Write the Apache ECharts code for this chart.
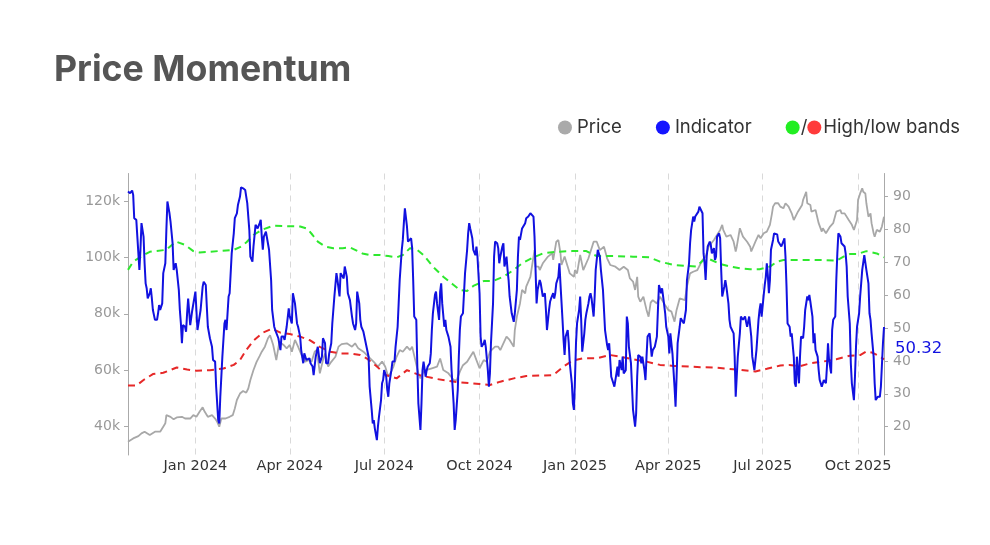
<!DOCTYPE html>
<html><head><meta charset="utf-8">
<script src="https://cdn.jsdelivr.net/npm/echarts@6/dist/echarts.min.js"></script>
<style>html,body{margin:0;padding:0;background:#fff}#c{width:990px;height:545px}</style>
</head><body><div id="c"></div>
<script>
const startDate = [2023, 9, 28], endDate = [2025, 9, 26];
const quarterDates = ['2024-01-01','2024-04-01','2024-07-01','2024-10-01','2025-01-01','2025-04-01','2025-07-01','2025-10-01'];
const quarterLabels = ['Jan 2024','Apr 2024','Jul 2024','Oct 2024','Jan 2025','Apr 2025','Jul 2025','Oct 2025'];
const priceTicks = [40, 60, 80, 100, 120];          // thousands
const indicatorTicks = [20, 30, 40, 50, 60, 70, 80, 90];

// Price (thousands)
const price = [['2023-10-28',34.4],['2023-11-02',35.6],['2023-11-07',36.4],['2023-11-10',37.4],['2023-11-13',38.0],['2023-11-18',36.8],['2023-11-23',38.0],['2023-11-28',38.0],['2023-12-01',39.8],['2023-12-03',41.0],['2023-12-04',43.9],['2023-12-08',43.3],['2023-12-11',42.4],['2023-12-14',43.1],['2023-12-19',43.3],['2023-12-22',42.7],['2023-12-27',42.7],['2023-12-30',43.9],['2024-01-02',43.3],['2024-01-05',45.1],['2024-01-08',46.7],['2024-01-10',45.1],['2024-01-13',43.3],['2024-01-17',43.9],['2024-01-20',42.7],['2024-01-22',41.5],['2024-01-24',39.8],['2024-01-26',42.7],['2024-01-30',42.7],['2024-02-03',43.3],['2024-02-06',43.9],['2024-02-08',46.3],['2024-02-10',49.3],['2024-02-13',51.6],['2024-02-16',52.5],['2024-02-19',51.9],['2024-02-21',53.4],['2024-02-23',56.4],['2024-02-26',60.0],['2024-02-29',62.9],['2024-03-03',65.0],['2024-03-05',66.5],['2024-03-08',68.3],['2024-03-11',71.3],['2024-03-13',72.4],['2024-03-16',68.9],['2024-03-18',65.3],['2024-03-19',63.5],['2024-03-22',70.1],['2024-03-26',68.9],['2024-03-29',67.7],['2024-04-01',68.9],['2024-04-03',66.5],['2024-04-06',70.7],['2024-04-09',68.3],['2024-04-13',64.7],['2024-04-16',62.9],['2024-04-19',63.5],['2024-04-22',62.9],['2024-04-25',66.5],['2024-04-27',67.1],['2024-04-30',58.8],['2024-05-03',63.5],['2024-05-05',65.9],['2024-05-08',61.2],['2024-05-11',62.9],['2024-05-15',64.7],['2024-05-18',68.3],['2024-05-21',69.2],['2024-05-26',69.5],['2024-05-31',68.3],['2024-06-03',69.5],['2024-06-06',67.7],['2024-06-11',66.5],['2024-06-16',64.7],['2024-06-21',62.9],['2024-06-25',61.2],['2024-06-29',63.0],['2024-07-02',61.2],['2024-07-05',57.6],['2024-07-07',58.8],['2024-07-10',61.2],['2024-07-13',64.7],['2024-07-16',67.1],['2024-07-19',66.5],['2024-07-23',68.3],['2024-07-26',67.1],['2024-07-28',68.3],['2024-07-31',63.5],['2024-08-03',58.8],['2024-08-05',57.0],['2024-08-08',59.4],['2024-08-11',60.0],['2024-08-16',60.6],['2024-08-21',61.2],['2024-08-24',64.1],['2024-08-27',60.0],['2024-09-01',58.8],['2024-09-06',56.4],['2024-09-09',56.4],['2024-09-12',59.4],['2024-09-15',61.7],['2024-09-19',62.9],['2024-09-22',64.7],['2024-09-25',66.5],['2024-09-28',63.5],['2024-10-01',60.6],['2024-10-05',63.5],['2024-10-08',62.9],['2024-10-11',66.5],['2024-10-16',68.3],['2024-10-19',68.3],['2024-10-21',67.1],['2024-10-24',69.5],['2024-10-27',71.9],['2024-10-30',70.7],['2024-11-03',68.3],['2024-11-04',74.2],['2024-11-06',79.0],['2024-11-09',83.7],['2024-11-11',88.5],['2024-11-14',87.3],['2024-11-15',89.7],['2024-11-19',93.2],['2024-11-20',95.6],['2024-11-23',102.7],['2024-11-24',96.8],['2024-11-27',96.8],['2024-11-28',95.6],['2024-12-01',98.0],['2024-12-06',100.4],['2024-12-10',101.6],['2024-12-11',99.2],['2024-12-14',105.7],['2024-12-16',106.3],['2024-12-18',101.6],['2024-12-19',97.4],['2024-12-22',100.4],['2024-12-26',95.6],['2024-12-27',94.4],['2024-12-31',93.2],['2025-01-01',95.6],['2025-01-03',94.4],['2025-01-06',101.0],['2025-01-09',95.6],['2025-01-14',99.8],['2025-01-19',105.7],['2025-01-22',105.7],['2025-01-25',102.7],['2025-01-29',103.9],['2025-02-01',99.8],['2025-02-04',97.4],['2025-02-09',96.8],['2025-02-13',95.6],['2025-02-17',96.8],['2025-02-21',95.6],['2025-02-23',92.6],['2025-02-26',91.5],['2025-02-28',88.5],['2025-03-02',93.2],['2025-03-03',86.1],['2025-03-05',84.3],['2025-03-08',86.1],['2025-03-11',81.4],['2025-03-13',79.0],['2025-03-15',84.0],['2025-03-17',84.9],['2025-03-21',83.7],['2025-03-24',86.1],['2025-03-29',83.1],['2025-04-01',81.4],['2025-04-04',80.8],['2025-04-07',77.2],['2025-04-09',81.4],['2025-04-12',85.5],['2025-04-17',84.9],['2025-04-19',89.7],['2025-04-22',94.4],['2025-04-25',95.0],['2025-04-29',95.6],['2025-05-04',99.2],['2025-05-07',100.4],['2025-05-10',104.0],['2025-05-15',106.3],['2025-05-21',109.9],['2025-05-23',111.7],['2025-05-24',109.9],['2025-05-27',107.5],['2025-05-31',108.1],['2025-06-03',105.7],['2025-06-05',102.2],['2025-06-06',103.9],['2025-06-09',110.5],['2025-06-12',107.5],['2025-06-16',105.7],['2025-06-19',103.9],['2025-06-20',102.2],['2025-06-24',105.7],['2025-06-27',108.1],['2025-06-29',106.9],['2025-07-02',108.7],['2025-07-05',109.3],['2025-07-08',111.7],['2025-07-10',115.8],['2025-07-11',118.2],['2025-07-13',119.4],['2025-07-16',119.4],['2025-07-18',118.2],['2025-07-19',118.8],['2025-07-21',117.6],['2025-07-23',119.4],['2025-07-26',118.2],['2025-07-29',115.8],['2025-07-31',113.4],['2025-08-01',114.0],['2025-08-04',116.4],['2025-08-08',118.8],['2025-08-09',120.6],['2025-08-12',123.5],['2025-08-13',119.4],['2025-08-16',118.8],['2025-08-17',116.4],['2025-08-21',117.0],['2025-08-24',112.3],['2025-08-27',109.3],['2025-08-28',110.5],['2025-08-31',108.7],['2025-09-04',111.1],['2025-09-07',112.3],['2025-09-10',116.4],['2025-09-14',117.0],['2025-09-15',115.8],['2025-09-18',115.8],['2025-09-22',113.4],['2025-09-25',111.7],['2025-09-27',109.9],['2025-09-30',113.4],['2025-10-01',120.6],['2025-10-03',122.9],['2025-10-05',124.7],['2025-10-06',123.5],['2025-10-08',122.9],['2025-10-09',119.4],['2025-10-11',114.6],['2025-10-13',115.8],['2025-10-14',112.3],['2025-10-16',108.7],['2025-10-17',107.5],['2025-10-19',109.9],['2025-10-22',109.3],['2025-10-24',111.1],['2025-10-26',114.6]];

const indicator = [['2023-10-28',91.5],['2023-10-30',91.0],['2023-11-01',91.8],['2023-11-02',90.5],['2023-11-03',83.4],['2023-11-05',82.9],['2023-11-06',77.8],['2023-11-08',67.7],['2023-11-09',73.8],['2023-11-10',81.9],['2023-11-11',82.4],['2023-11-12',77.8],['2023-11-13',69.7],['2023-11-14',63.6],['2023-11-15',62.1],['2023-11-16',59.0],['2023-11-18',60.6],['2023-11-19',62.1],['2023-11-20',59.0],['2023-11-21',55.5],['2023-11-23',52.5],['2023-11-25',52.5],['2023-11-26',54.5],['2023-11-27',57.0],['2023-11-28',55.5],['2023-11-30',57.5],['2023-12-01',66.7],['2023-12-03',69.7],['2023-12-04',79.8],['2023-12-05',88.5],['2023-12-07',84.9],['2023-12-08',82.4],['2023-12-10',75.8],['2023-12-11',67.7],['2023-12-13',69.7],['2023-12-14',67.7],['2023-12-16',61.6],['2023-12-17',55.5],['2023-12-18',51.4],['2023-12-19',45.4],['2023-12-20',50.9],['2023-12-22',50.4],['2023-12-23',48.9],['2023-12-24',54.5],['2023-12-25',59.0],['2023-12-27',50.9],['2023-12-28',51.4],['2023-12-29',55.5],
['2024-01-01',61.1],['2024-01-03',49.4],['2024-01-04',51.4],['2024-01-06',55.5],['2024-01-08',62.6],['2024-01-09',64.1],['2024-01-11',63.1],['2024-01-12',56.5],['2024-01-13',50.4],['2024-01-15',46.9],['2024-01-17',44.3],['2024-01-18',40.3],['2024-01-20',39.8],['2024-01-21',32.2],['2024-01-23',22.0],['2024-01-24',21.0],['2024-01-25',29.1],['2024-01-27',41.3],['2024-01-29',51.4],['2024-01-30',52.5],['2024-01-31',49.4],['2024-02-02',59.6],['2024-02-03',60.6],['2024-02-05',72.7],['2024-02-07',78.8],['2024-02-08',83.4],['2024-02-10',84.9],['2024-02-11',87.4],['2024-02-13',90.0],['2024-02-14',92.8],['2024-02-16',92.5],['2024-02-18',92.0],['2024-02-20',88.0],['2024-02-22',79.8],['2024-02-23',71.7],['2024-02-25',70.2],['2024-02-26',74.8],['2024-02-28',81.4],['2024-03-01',80.3],['2024-03-03',81.9],
['2024-03-04',82.9],['2024-03-05',77.8],['2024-03-06',73.8],['2024-03-07',77.8],['2024-03-09',79.3],['2024-03-10',78.8],['2024-03-12',73.8],['2024-03-14',64.6],['2024-03-15',55.5],['2024-03-17',50.4],['2024-03-18',49.4],['2024-03-19',49.9],['2024-03-21',46.9],['2024-03-23',43.3],['2024-03-24',47.4],['2024-03-26',47.4],['2024-03-27',46.4],['2024-03-29',50.4],['2024-03-31',56.0],['2024-04-01',53.5],['2024-04-03',51.4],['2024-04-04',60.6],['2024-04-06',57.5],['2024-04-08',51.4],['2024-04-09',50.4],['2024-04-11',47.4],['2024-04-12',43.3],['2024-04-14',39.3],['2024-04-15',42.3],['2024-04-17',40.3],['2024-04-18',39.8],['2024-04-20',40.8],['2024-04-21',39.3],['2024-04-23',38.3],['2024-04-24',35.7],['2024-04-26',41.3],['2024-04-28',44.3],['2024-04-29',43.8],['2024-04-30',39.3],['2024-05-02',41.3],['2024-05-03',46.9],['2024-05-05',45.4],['2024-05-06',39.3],['2024-05-08',39.3],['2024-05-09',42.3],['2024-05-11',45.4],['2024-05-12',51.4],['2024-05-14',59.6],['2024-05-16',66.7],['2024-05-17',64.6],['2024-05-19',59.6],['2024-05-20',66.7],['2024-05-21',67.2],['2024-05-23',65.1],['2024-05-24',68.7],['2024-05-26',65.6],['2024-05-27',60.6],['2024-05-29',58.5],['2024-05-31',53.5],['2024-06-01',51.4],['2024-06-03',49.4],['2024-06-04',51.4],['2024-06-05',61.1],['2024-06-07',57.5],['2024-06-08',52.5],['2024-06-09',50.4],['2024-06-11',48.9],['2024-06-12',48.4],['2024-06-14',44.3],['2024-06-16',41.3],['2024-06-17',32.2],['2024-06-19',25.1],['2024-06-20',21.0],['2024-06-21',22.0],['2024-06-22',19.5],['2024-06-24',15.9],['2024-06-25',20.0],['2024-06-26',23.0],['2024-06-28',28.1],['2024-06-29',33.2],['2024-06-30',34.2],['2024-07-01',37.2],['2024-07-03',35.2],['2024-07-04',31.2],['2024-07-05',29.1],
['2024-07-06',33.2],['2024-07-08',37.2],['2024-07-09',39.8],['2024-07-11',39.8],['2024-07-12',44.3],['2024-07-14',50.4],['2024-07-15',57.5],['2024-07-16',64.6],['2024-07-18',73.8],['2024-07-19',76.8],['2024-07-20',81.9],['2024-07-21',86.4],['2024-07-23',80.9],['2024-07-24',76.3],['2024-07-25',76.8],['2024-07-27',77.3],['2024-07-28',74.3],['2024-07-29',64.6],['2024-07-30',53.5],['2024-08-01',52.5],['2024-08-02',38.3],['2024-08-03',27.1],['2024-08-05',19.0],['2024-08-06',27.1],['2024-08-07',37.2],['2024-08-08',39.8],['2024-08-10',35.2],['2024-08-11',37.2],['2024-08-12',38.3],['2024-08-14',39.3],['2024-08-15',42.3],['2024-08-16',49.4],['2024-08-17',54.5],['2024-08-19',60.1],['2024-08-20',61.1],['2024-08-21',57.5],['2024-08-23',52.5],['2024-08-24',61.1],['2024-08-25',63.6],['2024-08-26',57.5],['2024-08-28',50.4],['2024-08-29',52.5],['2024-08-30',49.4],['2024-09-01',47.4],['2024-09-02',47.4],['2024-09-03',44.3],['2024-09-04',37.2],['2024-09-06',27.1],['2024-09-07',19.0],['2024-09-08',22.0],['2024-09-10',31.2],['2024-09-11',41.3],['2024-09-12',49.4],['2024-09-13',53.5],['2024-09-15',54.5],['2024-09-16',60.6],['2024-09-17',66.7],['2024-09-19',73.8],['2024-09-20',78.8],['2024-09-21',81.9],['2024-09-22',80.3],['2024-09-24',77.3],['2024-09-25',73.8],['2024-09-27',72.2],['2024-09-28',74.8],['2024-09-29',71.7],['2024-10-01',60.6],['2024-10-02',47.4],['2024-10-03',44.3],['2024-10-05',45.4],['2024-10-06',46.4],['2024-10-07',44.3],['2024-10-09',37.2],['2024-10-10',32.2],['2024-10-11',36.2],['2024-10-12',45.4],['2024-10-14',57.5],['2024-10-15',71.7],['2024-10-16',76.3],['2024-10-18',75.8],['2024-10-19',74.3],['2024-10-20',69.7],['2024-10-21',71.7],['2024-10-23',74.8],['2024-10-24',75.8],['2024-10-25',68.7],['2024-10-27',71.7],['2024-10-28',67.7],['2024-10-29',64.6],['2024-10-30',59.6],['2024-11-01',54.5],['2024-11-03',51.9],['2024-11-04',54.5],['2024-11-06',61.6],['2024-11-07',71.7],['2024-11-08',77.8],
['2024-11-09',76.8],['2024-11-11',80.3],['2024-11-12',80.9],['2024-11-14',81.9],['2024-11-15',83.4],['2024-11-17',83.9],['2024-11-19',84.9],['2024-11-20',84.9],['2024-11-22',83.9],['2024-11-23',77.8],['2024-11-24',67.7],['2024-11-25',57.5],['2024-11-26',61.6],['2024-11-28',64.6],['2024-11-29',63.6],['2024-11-30',63.1],['2024-12-01',59.6],['2024-12-03',60.6],['2024-12-04',55.5],['2024-12-05',49.4],['2024-12-07',55.5],['2024-12-08',58.0],['2024-12-09',59.0],['2024-12-11',60.6],['2024-12-12',59.0],['2024-12-13',60.6],['2024-12-14',63.6],['2024-12-16',65.6],['2024-12-17',69.7],['2024-12-18',63.6],['2024-12-20',52.5],['2024-12-21',46.4],['2024-12-22',41.8],['2024-12-23',47.4],['2024-12-25',49.4],['2024-12-26',45.4],['2024-12-27',39.3],['2024-12-29',33.2],['2024-12-30',27.1],['2024-12-31',25.1],['2025-01-01',34.2],['2025-01-02',45.4],['2025-01-03',51.4],['2025-01-05',55.5],['2025-01-06',59.6],['2025-01-07',52.5],['2025-01-08',42.8],['2025-01-10',48.4],['2025-01-11',52.5],['2025-01-12',54.5],['2025-01-14',57.5],['2025-01-15',59.6],['2025-01-16',60.6],['2025-01-17',59.0],['2025-01-19',53.5],['2025-01-20',59.6],['2025-01-21',67.7],['2025-01-23',73.8],['2025-01-24',73.8],['2025-01-25',71.7],['2025-01-26',67.7],['2025-01-28',61.6],['2025-01-29',55.5],['2025-01-30',49.4],['2025-02-01',44.8],['2025-02-02',43.3],['2025-02-03',45.4],['2025-02-05',35.2],['2025-02-06',34.2],['2025-02-07',33.2],['2025-02-08',32.2],['2025-02-10',36.2],['2025-02-11',38.3],['2025-02-12',35.2],['2025-02-13',40.3],['2025-02-15',37.2],['2025-02-16',41.3],['2025-02-17',36.2],['2025-02-19',37.2],['2025-02-20',53.5],['2025-02-21',51.4],['2025-02-22',44.3],['2025-02-24',39.3],['2025-02-25',32.2],['2025-02-26',25.1],['2025-02-28',20.0],['2025-03-01',24.1],['2025-03-02',35.2],['2025-03-03',41.8],['2025-03-05',41.3],['2025-03-06',39.3],['2025-03-07',41.3],['2025-03-09',37.2],['2025-03-10',34.2],['2025-03-11',41.3],['2025-03-12',47.4],['2025-03-14',48.4],
['2025-03-16',41.3],['2025-03-17',43.3],['2025-03-18',42.8],['2025-03-19',44.3],['2025-03-21',47.4],['2025-03-22',55.5],['2025-03-23',63.1],['2025-03-25',60.6],['2025-03-26',62.1],['2025-03-27',59.6],['2025-03-29',54.5],['2025-03-30',50.4],['2025-03-31',50.4],['2025-04-01',47.4],['2025-04-02',42.3],['2025-04-03',48.4],['2025-04-04',48.9],['2025-04-05',42.3],['2025-04-07',32.2],['2025-04-08',26.1],['2025-04-09',35.2],['2025-04-10',45.4],['2025-04-12',50.4],['2025-04-13',53.0],['2025-04-14',52.5],['2025-04-16',51.4],['2025-04-17',51.9],['2025-04-18',55.5],['2025-04-19',64.6],['2025-04-21',69.7],['2025-04-22',75.8],['2025-04-23',79.8],['2025-04-25',83.9],['2025-04-26',82.4],['2025-04-27',83.9],['2025-04-28',84.4],['2025-04-30',85.4],['2025-05-01',86.9],['2025-05-02',87.4],['2025-05-04',84.9],['2025-05-05',72.7],['2025-05-06',69.7],['2025-05-07',64.6],['2025-05-08',71.7],['2025-05-09',74.8],['2025-05-11',76.3],['2025-05-12',75.3],['2025-05-13',72.7],['2025-05-15',74.3],['2025-05-16',70.7],['2025-05-17',71.7],['2025-05-18',77.8],['2025-05-20',78.8],['2025-05-21',77.3],['2025-05-22',67.7],['2025-05-23',59.6],['2025-05-25',62.6],['2025-05-26',64.6],['2025-05-27',62.6],['2025-05-29',57.5],['2025-05-30',52.5],['2025-05-31',50.4],['2025-06-01',49.9],['2025-06-03',48.4],['2025-06-04',41.3],['2025-06-05',29.1],['2025-06-06',35.2],['2025-06-07',41.3],['2025-06-09',48.4],['2025-06-10',53.5],['2025-06-11',53.0],['2025-06-12',52.5],['2025-06-14',53.5],['2025-06-15',51.9],['2025-06-16',50.4],['2025-06-18',53.5],['2025-06-19',50.4],['2025-06-20',47.4],['2025-06-21',41.3],['2025-06-23',37.2],['2025-06-24',36.7],['2025-06-25',43.3],['2025-06-27',52.5],['2025-06-28',55.5],['2025-06-29',57.5],['2025-06-30',53.5],['2025-07-02',60.0],['2025-07-03',63.1],['2025-07-04',65.5],['2025-07-05',69.7],['2025-07-06',66.0],['2025-07-07',60.6],['2025-07-08',64.6],['2025-07-09',73.8],['2025-07-11',76.8],['2025-07-12',78.8],['2025-07-13',79.3],['2025-07-15',78.5],['2025-07-16',76.3],['2025-07-17',76.8],
['2025-07-19',74.8],['2025-07-20',74.3],['2025-07-22',77.3],['2025-07-23',71.7],['2025-07-24',62.6],['2025-07-25',51.4],['2025-07-27',50.4],['2025-07-28',47.4],['2025-07-29',48.4],['2025-07-31',41.3],['2025-08-01',33.2],['2025-08-02',32.2],['2025-08-03',41.3],['2025-08-05',33.2],['2025-08-06',41.3],['2025-08-07',47.4],['2025-08-09',46.9],['2025-08-10',50.4],['2025-08-11',55.5],['2025-08-13',59.6],['2025-08-14',58.5],['2025-08-15',60.1],['2025-08-16',58.0],['2025-08-18',53.5],['2025-08-19',45.4],['2025-08-20',48.4],['2025-08-21',43.3],['2025-08-23',41.3],['2025-08-24',37.2],['2025-08-25',34.2],['2025-08-27',32.2],['2025-08-28',33.2],['2025-08-29',34.2],['2025-08-31',33.2],['2025-09-01',38.3],['2025-09-02',45.4],['2025-09-03',40.3],['2025-09-05',36.2],['2025-09-06',49.4],['2025-09-07',52.5],['2025-09-09',53.5],['2025-09-10',64.6],['2025-09-11',72.7],['2025-09-12',78.8],['2025-09-14',77.8],['2025-09-15',75.8],['2025-09-16',75.3],['2025-09-18',74.8],['2025-09-19',72.7],['2025-09-20',68.7],['2025-09-21',59.6],['2025-09-23',51.4],['2025-09-24',39.3],['2025-09-25',33.2],['2025-09-27',28.1],['2025-09-28',35.2],['2025-09-29',44.3],['2025-09-30',50.4],['2025-10-02',54.5],['2025-10-03',59.6],['2025-10-04',63.6],['2025-10-05',67.7],['2025-10-07',72.2],['2025-10-08',72.7],['2025-10-09',67.7],['2025-10-11',63.6],['2025-10-12',54.5],['2025-10-13',52.5],['2025-10-14',48.4],['2025-10-16',41.3],['2025-10-17',33.2],['2025-10-18',28.1],['2025-10-20',29.1],['2025-10-21',29.6],['2025-10-22',29.1],['2025-10-23',32.2],['2025-10-25',45.4],['2025-10-26',50.32]];

const highBand = [['2023-10-28',67.7],['2023-11-02',70.2],['2023-11-12',72.2],['2023-11-18',73.2],['2023-12-04',73.8],['2023-12-13',76.3],['2023-12-22',75.3],['2023-12-30',73.4],['2024-01-05',73.0],['2024-01-15',73.2],['2024-02-07',73.8],['2024-02-13',74.6],['2024-02-19',76.0],['2024-02-26',78.3],['2024-03-06',80.0],['2024-03-16',81.1],['2024-03-29',81.0],['2024-04-11',80.9],['2024-04-18',80.2],['2024-04-23',78.3],['2024-04-28',76.3],['2024-05-05',74.8],['2024-05-13',74.3],['2024-05-22',74.3],['2024-05-29',74.5],['2024-06-03',73.8],['2024-06-10',72.7],['2024-06-17',72.2],['2024-06-27',72.2],['2024-07-05',71.9],['2024-07-13',71.5],['2024-07-19',72.2],['2024-07-26',74.3],['2024-08-01',74.0],['2024-08-08',72.2],['2024-08-17',68.7],['2024-08-27',65.6],['2024-09-06',63.1],['2024-09-12',61.6],['2024-09-19',61.3],['2024-09-25',62.8],['2024-10-05',64.3],['2024-10-14',64.3],['2024-10-24',65.6],['2024-11-03',67.7],['2024-11-12',69.9],['2024-11-22',71.5],['2024-12-01',72.7],['2024-12-14',73.2],['2024-12-29',73.4],['2025-01-12',73.4],['2025-01-16',72.7],['2025-01-22',71.9],['2025-02-07',71.9],['2025-02-26',71.7],['2025-03-14',71.5],['2025-03-24',70.2],['2025-04-06',69.2],['2025-04-19',68.9],['2025-04-28',68.7],['2025-05-05',70.7],['2025-05-11',70.9],['2025-05-21',69.5],['2025-05-31',68.7],['2025-06-09',68.2],['2025-06-19',67.9],['2025-06-28',67.9],['2025-07-08',68.7],['2025-07-15',70.2],['2025-07-21',70.7],['2025-08-06',70.7],['2025-08-28',70.7],['2025-09-10',70.5],['2025-09-17',71.7],['2025-09-23',72.5],['2025-09-30',72.5],['2025-10-09',73.4],['2025-10-19',72.7],['2025-10-26',71.5]];

const lowBand = [['2023-10-28',32.5],['2023-11-05',32.5],['2023-11-12',34.2],['2023-11-21',36.0],['2023-12-01',36.4],['2023-12-14',38.0],['2023-12-24',37.4],['2024-01-02',37.0],['2024-01-15',37.2],['2024-01-28',37.7],['2024-02-07',38.8],['2024-02-13',40.3],['2024-02-19',43.3],['2024-02-26',46.2],['2024-03-06',48.6],['2024-03-15',49.8],['2024-03-23',48.6],['2024-04-01',48.2],['2024-04-11',47.4],['2024-04-21',46.2],['2024-04-30',44.3],['2024-05-10',42.8],['2024-05-19',42.3],['2024-05-29',42.3],['2024-06-08',41.8],['2024-06-14',40.8],['2024-06-24',38.3],['2024-07-03',35.7],['2024-07-13',34.7],['2024-07-23',37.2],['2024-08-05',35.6],['2024-08-21',34.5],['2024-09-09',33.6],['2024-10-01',33.0],['2024-10-11',32.7],['2024-10-21',33.7],['2024-11-03',34.7],['2024-11-15',35.4],['2024-12-11',35.7],['2024-12-21',38.3],['2024-12-30',40.1],['2025-01-09',40.8],['2025-01-22',40.8],['2025-02-04',41.8],['2025-02-13',41.3],['2025-02-26',40.5],['2025-03-11',39.8],['2025-03-24',38.8],['2025-04-06',38.5],['2025-05-02',38.1],['2025-05-15',38.0],['2025-06-06',37.4],['2025-06-24',36.8],['2025-07-05',37.6],['2025-07-18',38.6],['2025-07-27',38.8],['2025-08-06',38.4],['2025-08-16',39.3],['2025-08-28',39.8],['2025-09-10',40.5],['2025-09-23',41.6],['2025-10-03',41.8],['2025-10-09',42.9],['2025-10-14',42.6],['2025-10-20',41.7],['2025-10-26',40.5]];

// daily category axis
const days = [];
for (let t = Date.UTC(...startDate); t <= Date.UTC(...endDate); t += 86400000) {
  days.push(new Date(t).toISOString().slice(0, 10));
}

const C_PRICE = '#a8a8a8', C_IND = '#1111e0', C_HI = '#2ee82e', C_LO = '#e62828';
const axisFont = 'DejaVu Sans';

const chart = echarts.init(document.getElementById('c'), null, {renderer: 'canvas'});
chart.setOption({
  animation: false,
  backgroundColor: '#fff',
  title: {
    text: 'Price Momentum', left: 54, top: 52, padding: 0,
    textStyle: {fontFamily: 'Inter', fontWeight: 'bold', fontSize: 35.7, color: '#555'}
  },
  legend: {
    right: 30, top: 118, padding: 0, itemGap: 34, icon: 'circle', itemWidth: 14, itemHeight: 14,
    data: [
      {name: 'Price', itemStyle: {color: '#aaaaaa', borderWidth: 0}},
      {name: 'Indicator', itemStyle: {color: '#1515ff', borderWidth: 0}},
      {name: 'High/low bands', itemStyle: {color: '#22ee22', borderWidth: 0}}
    ],
    selectedMode: false,
    textStyle: {
      fontFamily: 'Inter', fontSize: 18.5, color: '#333',
      rich: {
        s: {fontFamily: 'Inter', fontSize: 18.5, color: '#333', padding: [0, 0, 0, -4]},
        r: {width: 14, height: 14, borderRadius: 7, backgroundColor: '#ff3b3b'},
        t: {fontFamily: 'Inter', fontSize: 18.5, color: '#333', padding: [0, 0, 0, 2]}
      }
    },
    formatter: function (name) {
      if (name === 'High/low bands') return '{s|/}{r| }{t|High/low bands}';
      return name;
    }
  },
  grid: {left: 128, right: 106, top: 173.5, bottom: 90, containLabel: false, outerBoundsMode: 'none'},
  xAxis: {
    type: 'category', data: days, boundaryGap: false,
    axisLine: {show: false}, axisTick: {show: false},
    axisLabel: {
      interval: (i, v) => quarterDates.indexOf(v) >= 0,
      formatter: v => quarterLabels[quarterDates.indexOf(v)],
      color: '#333', fontFamily: axisFont, fontSize: 14.5, margin: 4
    },
    splitLine: {
      show: true, interval: (i, v) => quarterDates.indexOf(v) >= 0,
      lineStyle: {color: '#d9d9d9', width: 1, type: [6, 5]}
    }
  },
  yAxis: [
    {
      type: 'value', position: 'left', min: 29.7, max: 130,
      axisLine: {show: true, lineStyle: {color: '#aaa', width: 1}},
      axisTick: {show: true, length: 4, inside: false, customValues: priceTicks, lineStyle: {color: '#aaa'}},
      axisLabel: {customValues: priceTicks, formatter: v => v + 'k', color: '#999', fontFamily: axisFont, fontSize: 14, margin: 8},
      splitLine: {show: false}
    },
    {
      type: 'value', position: 'right', min: 11.4, max: 97,
      axisLine: {show: true, lineStyle: {color: '#aaa', width: 1}},
      axisTick: {show: true, length: 4, inside: false, customValues: indicatorTicks, lineStyle: {color: '#aaa'}},
      axisLabel: {customValues: indicatorTicks, color: '#999', fontFamily: axisFont, fontSize: 14, margin: 9},
      splitLine: {show: false}
    }
  ],
  series: [
    {name: 'Price', type: 'line', yAxisIndex: 0, data: price, symbol: 'none', color: C_PRICE,
     lineStyle: {color: C_PRICE, width: 1.8}, z: 1},
    {name: 'High/low bands', type: 'line', yAxisIndex: 1, data: highBand, symbol: 'none', color: C_HI,
     lineStyle: {color: C_HI, width: 2, type: [7, 5]}, z: 2},
    {name: 'Low band', type: 'line', yAxisIndex: 1, data: lowBand, symbol: 'none', color: C_LO,
     lineStyle: {color: C_LO, width: 2, type: [7, 5]}, z: 2},
    {name: 'Indicator', type: 'line', yAxisIndex: 1, data: indicator, symbol: 'none', color: C_IND,
     lineStyle: {color: C_IND, width: 2}, z: 3,
     endLabel: {show: true, formatter: p => p.value[1].toFixed(2), color: C_IND,
                fontFamily: axisFont, fontSize: 16.5, offset: [3, 22]}}
  ]
});
</script></body></html>
